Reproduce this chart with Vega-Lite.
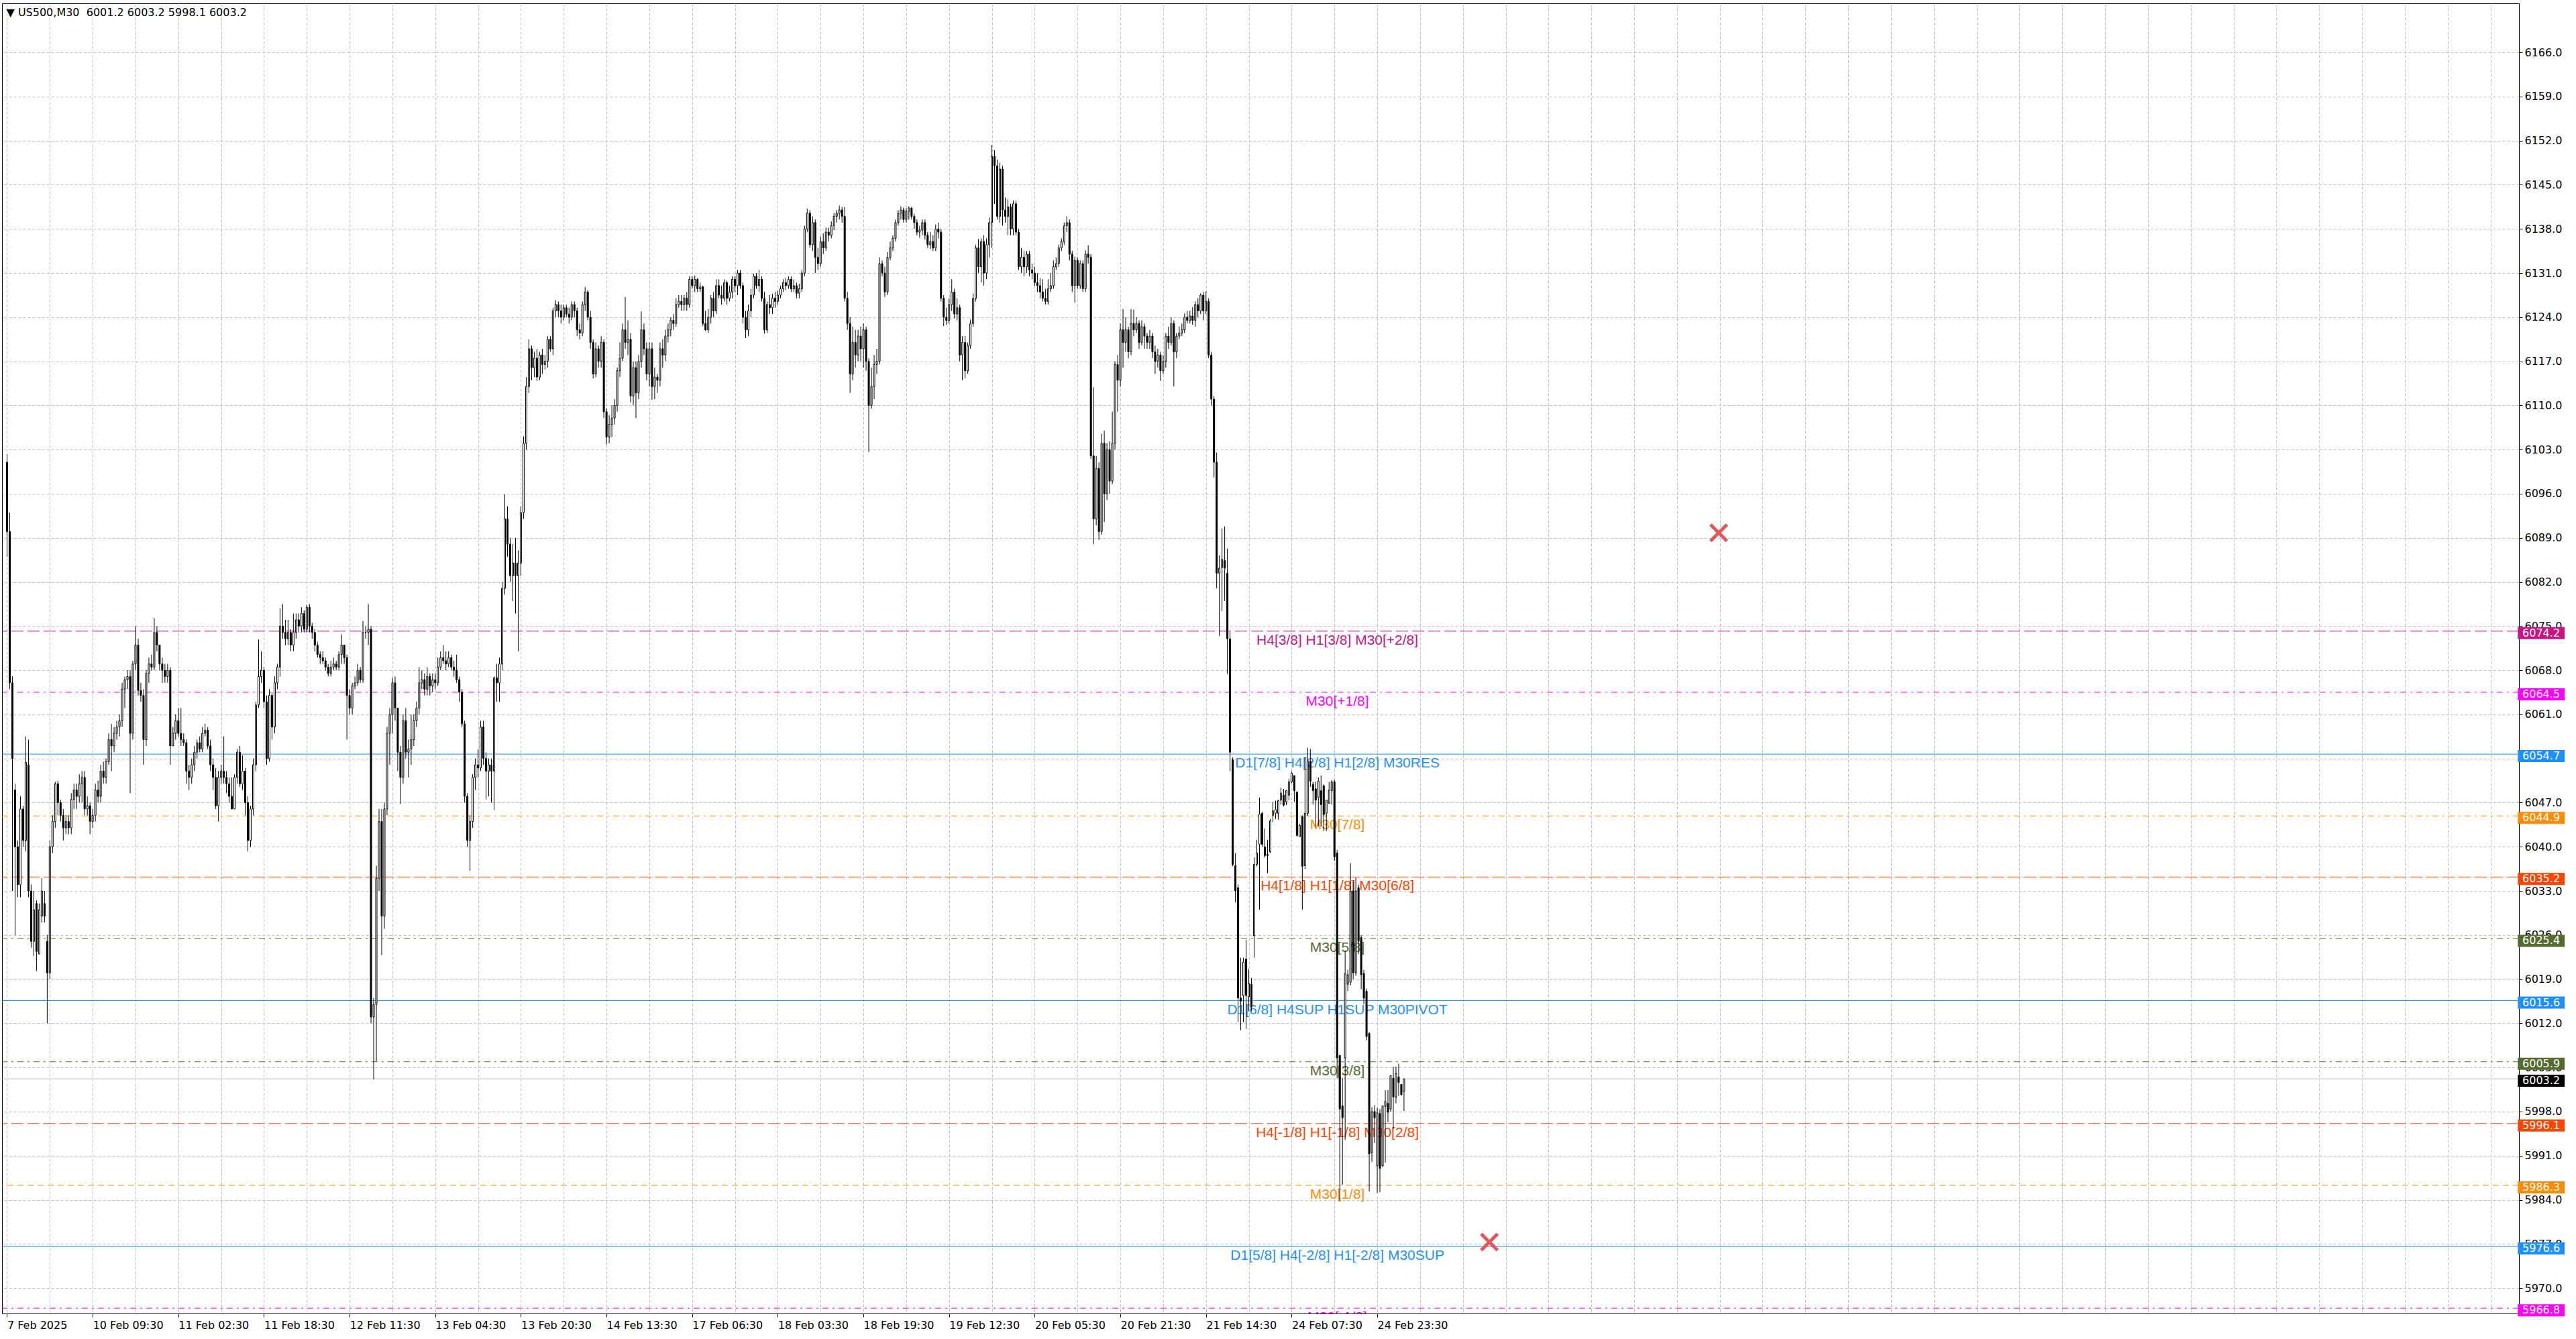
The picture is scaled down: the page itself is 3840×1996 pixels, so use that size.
{
"$schema": "https://vega.github.io/schema/vega-lite/v6.json",
"width": 3752,
"height": 1953,
"autosize": {"type": "none"},
"padding": {"left": 3, "top": 5, "right": 85, "bottom": 38},
"background": "white",
"config": {"view": {"stroke": "black", "strokeWidth": 1}, "font": "DejaVu Sans", "axis": {"labelFont": "DejaVu Sans", "labelFontSize": 16, "labelColor": "black"}},
"title": {"text": "▼ US500,M30\u00a0 6001.2 6003.2 5998.1 6003.2", "anchor": "start", "orient": "top", "offset": -35, "baseline": "alphabetic", "dx": 7, "fontSize": 16, "fontWeight": "normal", "font": "DejaVu Sans", "color": "black"},
"datasets": {
"levels": [
{"price":6074.2,"octave":"+2/8","label":"H4[3/8] H1[3/8] M30[+2/8]"},
{"price":6064.5,"octave":"+1/8","label":"M30[+1/8]"},
{"price":6054.7,"octave":"8/8","label":"D1[7/8] H4[2/8] H1[2/8] M30RES"},
{"price":6044.9,"octave":"7/8","label":"M30[7/8]"},
{"price":6035.2,"octave":"6/8","label":"H4[1/8] H1[1/8] M30[6/8]"},
{"price":6025.4,"octave":"5/8","label":"M30[5/8]"},
{"price":6015.6,"octave":"4/8","label":"D1[6/8] H4SUP H1SUP M30PIVOT"},
{"price":6005.9,"octave":"3/8","label":"M30[3/8]"},
{"price":5996.1,"octave":"2/8","label":"H4[-1/8] H1[-1/8] M30[2/8]"},
{"price":5986.3,"octave":"1/8","label":"M30[1/8]"},
{"price":5976.6,"octave":"0/8","label":"D1[5/8] H4[-2/8] H1[-2/8] M30SUP"},
{"price":5966.8,"octave":"-1/8","label":"M30[-1/8]"}
],
"trades": [{"bar":639.6,"price":6089.8},{"bar":553.9,"price":5977.3}],
"candles": [
{"i":0,"o":6101,"h":6102.3,"l":6086,"c":6090},
{"i":1,"o":6090,"h":6093,"l":6065,"c":6066},
{"i":2,"o":6066,"h":6067,"l":6033,"c":6054},
{"i":3,"o":6049,"h":6050,"l":6026,"c":6040},
{"i":4,"o":6040,"h":6041,"l":6032,"c":6034},
{"i":5,"o":6034,"h":6048,"l":6032,"c":6046},
{"i":6,"o":6046,"h":6046.5,"l":6040,"c":6041},
{"i":7,"o":6041,"h":6057.5,"l":6039.3,"c":6053.4},
{"i":8,"o":6053,"h":6057,"l":6032,"c":6033},
{"i":9,"o":6033,"h":6034,"l":6024,"c":6025},
{"i":10,"o":6025,"h":6033,"l":6022.7,"c":6030},
{"i":11,"o":6031,"h":6031.5,"l":6020.3,"c":6023.4},
{"i":12,"o":6023,"h":6031,"l":6023,"c":6030},
{"i":13,"o":6029,"h":6035,"l":6028,"c":6033},
{"i":14,"o":6031,"h":6033,"l":6028,"c":6029},
{"i":15,"o":6025,"h":6026,"l":6012,"c":6020},
{"i":16,"o":6020,"h":6041,"l":6019,"c":6040},
{"i":17,"o":6040,"h":6045,"l":6039,"c":6044},
{"i":18,"o":6044,"h":6050.3,"l":6043,"c":6050},
{"i":19,"o":6050,"h":6050.5,"l":6045,"c":6047},
{"i":20,"o":6047,"h":6047.5,"l":6044,"c":6045},
{"i":21,"o":6045,"h":6046,"l":6041,"c":6043},
{"i":22,"o":6043,"h":6045,"l":6042,"c":6044},
{"i":23,"o":6044,"h":6045,"l":6042,"c":6043},
{"i":24,"o":6043,"h":6048.5,"l":6042,"c":6047.5},
{"i":25,"o":6047.5,"h":6050,"l":6046,"c":6049},
{"i":26,"o":6049,"h":6050,"l":6046,"c":6048},
{"i":27,"o":6048,"h":6051.5,"l":6047,"c":6050},
{"i":28,"o":6050,"h":6052,"l":6047,"c":6051},
{"i":29,"o":6051,"h":6052,"l":6045,"c":6046},
{"i":30,"o":6046,"h":6048,"l":6045,"c":6046.5},
{"i":31,"o":6046.5,"h":6047,"l":6042,"c":6044},
{"i":32,"o":6044,"h":6046,"l":6043,"c":6045},
{"i":33,"o":6045,"h":6050,"l":6044,"c":6049},
{"i":34,"o":6049,"h":6050.5,"l":6047,"c":6048},
{"i":35,"o":6048,"h":6053,"l":6047,"c":6052},
{"i":36,"o":6052,"h":6053.5,"l":6050,"c":6051},
{"i":37,"o":6051,"h":6054,"l":6050,"c":6053.5},
{"i":38,"o":6053.5,"h":6058,"l":6053,"c":6057},
{"i":39,"o":6057,"h":6059.5,"l":6052,"c":6056},
{"i":40,"o":6056,"h":6059,"l":6055,"c":6058},
{"i":41,"o":6058,"h":6060,"l":6057,"c":6059},
{"i":42,"o":6059,"h":6061,"l":6057.5,"c":6060},
{"i":43,"o":6060,"h":6066,"l":6059,"c":6065},
{"i":44,"o":6065,"h":6067,"l":6062,"c":6066.5},
{"i":45,"o":6066.5,"h":6068,"l":6065,"c":6067},
{"i":46,"o":6067,"h":6068,"l":6048.5,"c":6058},
{"i":47,"o":6058,"h":6069.5,"l":6057,"c":6069},
{"i":48,"o":6069,"h":6075,"l":6068,"c":6072},
{"i":49,"o":6072,"h":6073,"l":6064,"c":6064.8},
{"i":50,"o":6064.8,"h":6066,"l":6063,"c":6064},
{"i":51,"o":6064,"h":6065,"l":6053,"c":6057},
{"i":52,"o":6057,"h":6068,"l":6056,"c":6067.5},
{"i":53,"o":6067.5,"h":6070,"l":6066,"c":6069},
{"i":54,"o":6069,"h":6070.5,"l":6068,"c":6068.5},
{"i":55,"o":6068.5,"h":6076.3,"l":6068,"c":6074},
{"i":56,"o":6074,"h":6075,"l":6071,"c":6072},
{"i":57,"o":6072,"h":6072,"l":6068,"c":6069},
{"i":58,"o":6069,"h":6070,"l":6066,"c":6068},
{"i":59,"o":6068,"h":6069,"l":6066,"c":6067},
{"i":60,"o":6067,"h":6069,"l":6066,"c":6068},
{"i":61,"o":6068,"h":6068.5,"l":6053,"c":6056},
{"i":62,"o":6056,"h":6059,"l":6056,"c":6058},
{"i":63,"o":6058,"h":6061,"l":6057,"c":6060},
{"i":64,"o":6060,"h":6062,"l":6057.5,"c":6058},
{"i":65,"o":6058,"h":6062,"l":6056,"c":6057},
{"i":66,"o":6057,"h":6058,"l":6056,"c":6056.5},
{"i":67,"o":6056.5,"h":6057,"l":6050,"c":6052},
{"i":68,"o":6052,"h":6053,"l":6049,"c":6051},
{"i":69,"o":6051,"h":6054,"l":6050,"c":6053},
{"i":70,"o":6053,"h":6056,"l":6052,"c":6055},
{"i":71,"o":6055,"h":6057,"l":6054,"c":6056.5},
{"i":72,"o":6056.5,"h":6057.5,"l":6055,"c":6055.5},
{"i":73,"o":6055.5,"h":6059,"l":6055,"c":6058},
{"i":74,"o":6058,"h":6059.5,"l":6057.5,"c":6058.5},
{"i":75,"o":6058.5,"h":6059,"l":6055.5,"c":6056},
{"i":76,"o":6056,"h":6057,"l":6052,"c":6053},
{"i":77,"o":6053,"h":6054,"l":6049,"c":6051},
{"i":78,"o":6051,"h":6052.5,"l":6046,"c":6046.5},
{"i":79,"o":6046.5,"h":6052,"l":6044,"c":6051},
{"i":80,"o":6051,"h":6053,"l":6050,"c":6052},
{"i":81,"o":6052,"h":6057.5,"l":6050,"c":6051},
{"i":82,"o":6051,"h":6052,"l":6048.5,"c":6050},
{"i":83,"o":6050,"h":6051,"l":6047,"c":6048},
{"i":84,"o":6048,"h":6051,"l":6046,"c":6046},
{"i":85,"o":6046,"h":6051.5,"l":6046,"c":6051},
{"i":86,"o":6051,"h":6055.5,"l":6050,"c":6055},
{"i":87,"o":6055,"h":6056,"l":6049.5,"c":6050},
{"i":88,"o":6050,"h":6054.5,"l":6049,"c":6052},
{"i":89,"o":6052,"h":6052.5,"l":6045,"c":6047},
{"i":90,"o":6047,"h":6048,"l":6039.3,"c":6041},
{"i":91,"o":6041,"h":6046.5,"l":6040,"c":6046},
{"i":92,"o":6046,"h":6054,"l":6045,"c":6053},
{"i":93,"o":6053,"h":6063,"l":6052,"c":6062.5},
{"i":94,"o":6062.5,"h":6072.9,"l":6062,"c":6067},
{"i":95,"o":6067,"h":6071,"l":6066,"c":6068},
{"i":96,"o":6068,"h":6068.5,"l":6062,"c":6063},
{"i":97,"o":6063,"h":6064,"l":6053,"c":6054},
{"i":98,"o":6054,"h":6065,"l":6053.5,"c":6064},
{"i":99,"o":6064,"h":6064.5,"l":6057,"c":6059},
{"i":100,"o":6059,"h":6067,"l":6058,"c":6066},
{"i":101,"o":6066,"h":6069,"l":6065,"c":6068.5},
{"i":102,"o":6068.5,"h":6077.8,"l":6067,"c":6075},
{"i":103,"o":6075,"h":6078.5,"l":6073,"c":6074},
{"i":104,"o":6074,"h":6076,"l":6072,"c":6073},
{"i":105,"o":6073,"h":6076,"l":6072,"c":6074},
{"i":106,"o":6074,"h":6074.5,"l":6071,"c":6072},
{"i":107,"o":6072,"h":6077,"l":6071,"c":6074},
{"i":108,"o":6074,"h":6077,"l":6073,"c":6076},
{"i":109,"o":6076,"h":6077,"l":6074,"c":6075},
{"i":110,"o":6075,"h":6078,"l":6074,"c":6077},
{"i":111,"o":6077,"h":6077.5,"l":6074,"c":6074.5},
{"i":112,"o":6074.5,"h":6078.4,"l":6074,"c":6078},
{"i":113,"o":6078,"h":6078.5,"l":6074,"c":6075},
{"i":114,"o":6075,"h":6075.5,"l":6073,"c":6074},
{"i":115,"o":6074,"h":6074.5,"l":6071,"c":6072},
{"i":116,"o":6072,"h":6072.5,"l":6070,"c":6070.5},
{"i":117,"o":6070.5,"h":6071,"l":6069,"c":6070},
{"i":118,"o":6070,"h":6071,"l":6069,"c":6069.5},
{"i":119,"o":6069.5,"h":6070,"l":6068,"c":6068.5},
{"i":120,"o":6068.5,"h":6069,"l":6067,"c":6067.5},
{"i":121,"o":6067.5,"h":6069.5,"l":6067,"c":6068.5},
{"i":122,"o":6068.5,"h":6070,"l":6068,"c":6069},
{"i":123,"o":6069,"h":6069.5,"l":6068,"c":6068.5},
{"i":124,"o":6068.5,"h":6071,"l":6068,"c":6070.5},
{"i":125,"o":6070.5,"h":6073.7,"l":6069,"c":6072},
{"i":126,"o":6072,"h":6072,"l":6069,"c":6070},
{"i":127,"o":6070,"h":6070.5,"l":6057,"c":6064},
{"i":128,"o":6064,"h":6065,"l":6061,"c":6062},
{"i":129,"o":6062,"h":6066,"l":6061,"c":6065.5},
{"i":130,"o":6065.5,"h":6067,"l":6065,"c":6066},
{"i":131,"o":6066,"h":6069,"l":6065.5,"c":6068},
{"i":132,"o":6068,"h":6068.5,"l":6066,"c":6066.5},
{"i":133,"o":6066.5,"h":6075.8,"l":6066,"c":6074},
{"i":134,"o":6074,"h":6075,"l":6073,"c":6074},
{"i":135,"o":6074,"h":6078.5,"l":6072,"c":6074.5},
{"i":136,"o":6074.5,"h":6075,"l":6012,"c":6013},
{"i":137,"o":6013,"h":6016,"l":6003.1,"c":6015},
{"i":138,"o":6015,"h":6037,"l":6006,"c":6035},
{"i":139,"o":6035,"h":6046,"l":6033,"c":6044},
{"i":140,"o":6044,"h":6046,"l":6022.8,"c":6029},
{"i":141,"o":6029,"h":6047,"l":6027,"c":6046},
{"i":142,"o":6046,"h":6059,"l":6045,"c":6058},
{"i":143,"o":6058,"h":6062,"l":6053,"c":6061},
{"i":144,"o":6061,"h":6066.8,"l":6058,"c":6066},
{"i":145,"o":6066,"h":6067,"l":6060,"c":6062},
{"i":146,"o":6062,"h":6062,"l":6052,"c":6055},
{"i":147,"o":6055,"h":6056,"l":6046.8,"c":6051},
{"i":148,"o":6051,"h":6061,"l":6050,"c":6060},
{"i":149,"o":6060,"h":6062,"l":6054,"c":6055},
{"i":150,"o":6055,"h":6057,"l":6051,"c":6055.5},
{"i":151,"o":6055.5,"h":6061,"l":6053,"c":6057},
{"i":152,"o":6057,"h":6061,"l":6056,"c":6060},
{"i":153,"o":6060,"h":6063,"l":6059,"c":6062},
{"i":154,"o":6062,"h":6068.5,"l":6061,"c":6066},
{"i":155,"o":6066,"h":6068,"l":6065,"c":6066.5},
{"i":156,"o":6066.5,"h":6067.5,"l":6064,"c":6065},
{"i":157,"o":6065,"h":6068.5,"l":6064,"c":6067},
{"i":158,"o":6067,"h":6067.5,"l":6064,"c":6065.5},
{"i":159,"o":6065.5,"h":6067.5,"l":6064.5,"c":6066.5},
{"i":160,"o":6066.5,"h":6067.5,"l":6065,"c":6066},
{"i":161,"o":6066,"h":6070,"l":6065.5,"c":6068.5},
{"i":162,"o":6068.5,"h":6071,"l":6068,"c":6070},
{"i":163,"o":6070,"h":6072,"l":6069,"c":6069.5},
{"i":164,"o":6069.5,"h":6071,"l":6068,"c":6069},
{"i":165,"o":6069,"h":6071,"l":6068.5,"c":6070},
{"i":166,"o":6070,"h":6070.5,"l":6068,"c":6068.5},
{"i":167,"o":6068.5,"h":6069.5,"l":6067,"c":6068},
{"i":168,"o":6068,"h":6070.5,"l":6066,"c":6066.5},
{"i":169,"o":6066.5,"h":6067,"l":6063,"c":6064.5},
{"i":170,"o":6064.5,"h":6065,"l":6059,"c":6059.5},
{"i":171,"o":6059.5,"h":6060,"l":6047,"c":6048},
{"i":172,"o":6048,"h":6048.5,"l":6040,"c":6041},
{"i":173,"o":6041,"h":6045,"l":6036.2,"c":6044},
{"i":174,"o":6044,"h":6051.5,"l":6043,"c":6051},
{"i":175,"o":6051,"h":6054,"l":6049,"c":6053},
{"i":176,"o":6053,"h":6055.5,"l":6051,"c":6052.5},
{"i":177,"o":6052.5,"h":6060,"l":6052,"c":6059},
{"i":178,"o":6059,"h":6060,"l":6053,"c":6054},
{"i":179,"o":6054,"h":6055,"l":6047.5,"c":6052},
{"i":180,"o":6052,"h":6054,"l":6048,"c":6053},
{"i":181,"o":6053,"h":6054,"l":6047,"c":6052},
{"i":182,"o":6052,"h":6067,"l":6045.8,"c":6066.8},
{"i":183,"o":6066.8,"h":6069,"l":6063,"c":6066},
{"i":184,"o":6066,"h":6070,"l":6063,"c":6069},
{"i":185,"o":6069,"h":6082,"l":6068,"c":6081},
{"i":186,"o":6081,"h":6095.9,"l":6080,"c":6092},
{"i":187,"o":6092,"h":6094,"l":6086,"c":6088},
{"i":188,"o":6088,"h":6089,"l":6082,"c":6083},
{"i":189,"o":6083,"h":6088,"l":6079,"c":6085},
{"i":190,"o":6085,"h":6089,"l":6077,"c":6083},
{"i":191,"o":6083,"h":6087,"l":6071,"c":6085},
{"i":192,"o":6085,"h":6094,"l":6083,"c":6093},
{"i":193,"o":6093,"h":6105.1,"l":6092,"c":6104},
{"i":194,"o":6104,"h":6114.5,"l":6103,"c":6113},
{"i":195,"o":6113,"h":6120.5,"l":6112,"c":6119},
{"i":196,"o":6119,"h":6119.5,"l":6114,"c":6116},
{"i":197,"o":6116,"h":6118.5,"l":6114.5,"c":6117.5},
{"i":198,"o":6117.5,"h":6119,"l":6113.9,"c":6114.5},
{"i":199,"o":6114.5,"h":6118.5,"l":6114,"c":6118},
{"i":200,"o":6118,"h":6119,"l":6115,"c":6116.5},
{"i":201,"o":6116.5,"h":6118,"l":6115.7,"c":6117},
{"i":202,"o":6117,"h":6121,"l":6116,"c":6120.5},
{"i":203,"o":6120.5,"h":6121,"l":6118.5,"c":6119},
{"i":204,"o":6119,"h":6125.5,"l":6118,"c":6125},
{"i":205,"o":6125,"h":6126.7,"l":6124,"c":6126},
{"i":206,"o":6126,"h":6126.5,"l":6124,"c":6125},
{"i":207,"o":6125,"h":6126,"l":6123,"c":6124},
{"i":208,"o":6124,"h":6126,"l":6123.5,"c":6125.5},
{"i":209,"o":6125.5,"h":6126,"l":6124,"c":6124.5},
{"i":210,"o":6124.5,"h":6125.5,"l":6123,"c":6124},
{"i":211,"o":6124,"h":6126.5,"l":6123.5,"c":6126},
{"i":212,"o":6126,"h":6126.5,"l":6124,"c":6125},
{"i":213,"o":6125,"h":6125.5,"l":6121,"c":6122},
{"i":214,"o":6122,"h":6123,"l":6120.5,"c":6121.5},
{"i":215,"o":6121.5,"h":6126.5,"l":6121,"c":6126},
{"i":216,"o":6126,"h":6128.8,"l":6125,"c":6128},
{"i":217,"o":6128,"h":6128.3,"l":6123.5,"c":6124},
{"i":218,"o":6124,"h":6125,"l":6119,"c":6120},
{"i":219,"o":6120,"h":6120.5,"l":6114.3,"c":6115},
{"i":220,"o":6115,"h":6120,"l":6114.5,"c":6119},
{"i":221,"o":6119,"h":6119.5,"l":6116,"c":6117},
{"i":222,"o":6117,"h":6121,"l":6116,"c":6120},
{"i":223,"o":6120,"h":6120.5,"l":6108,"c":6109},
{"i":224,"o":6109,"h":6109.5,"l":6103.8,"c":6105},
{"i":225,"o":6105,"h":6108.5,"l":6104,"c":6107},
{"i":226,"o":6107,"h":6110,"l":6105,"c":6108},
{"i":227,"o":6108,"h":6111,"l":6107,"c":6110},
{"i":228,"o":6110,"h":6116,"l":6109,"c":6115.5},
{"i":229,"o":6115.5,"h":6120,"l":6114.5,"c":6117.5},
{"i":230,"o":6117.5,"h":6123,"l":6117,"c":6122},
{"i":231,"o":6122,"h":6127.2,"l":6119,"c":6120},
{"i":232,"o":6120,"h":6123.5,"l":6118,"c":6120.5},
{"i":233,"o":6120.5,"h":6121.5,"l":6110.5,"c":6111.5},
{"i":234,"o":6111.5,"h":6117,"l":6110,"c":6116},
{"i":235,"o":6116,"h":6117,"l":6108,"c":6112},
{"i":236,"o":6112,"h":6118,"l":6111,"c":6117},
{"i":237,"o":6117,"h":6124.9,"l":6116,"c":6122},
{"i":238,"o":6122,"h":6123,"l":6118,"c":6119},
{"i":239,"o":6119,"h":6120,"l":6114,"c":6115},
{"i":240,"o":6115,"h":6120,"l":6113,"c":6119},
{"i":241,"o":6119,"h":6120,"l":6110.9,"c":6113},
{"i":242,"o":6113,"h":6116,"l":6111,"c":6114.5},
{"i":243,"o":6114.5,"h":6115,"l":6112,"c":6114},
{"i":244,"o":6114,"h":6120,"l":6113,"c":6119},
{"i":245,"o":6119,"h":6120.5,"l":6116,"c":6118},
{"i":246,"o":6118,"h":6122,"l":6117,"c":6121},
{"i":247,"o":6121,"h":6123,"l":6120,"c":6122},
{"i":248,"o":6122,"h":6124,"l":6121,"c":6123.5},
{"i":249,"o":6123.5,"h":6124.5,"l":6122,"c":6123},
{"i":250,"o":6123,"h":6127,"l":6122.5,"c":6126},
{"i":251,"o":6126,"h":6127.5,"l":6125.5,"c":6126.5},
{"i":252,"o":6126.5,"h":6127.5,"l":6125,"c":6126},
{"i":253,"o":6126,"h":6127.5,"l":6125,"c":6127},
{"i":254,"o":6127,"h":6128,"l":6125,"c":6126},
{"i":255,"o":6126,"h":6130.5,"l":6125.5,"c":6130},
{"i":256,"o":6130,"h":6130.5,"l":6128.5,"c":6129},
{"i":257,"o":6129,"h":6130.6,"l":6128,"c":6130},
{"i":258,"o":6130,"h":6130.2,"l":6128,"c":6128.5},
{"i":259,"o":6128.5,"h":6129.5,"l":6128,"c":6128.8},
{"i":260,"o":6128.8,"h":6129,"l":6122.6,"c":6123},
{"i":261,"o":6123,"h":6125,"l":6121.8,"c":6122},
{"i":262,"o":6122,"h":6125.3,"l":6121.5,"c":6124},
{"i":263,"o":6124,"h":6127.5,"l":6123,"c":6127},
{"i":264,"o":6127,"h":6128,"l":6124,"c":6125},
{"i":265,"o":6125,"h":6130,"l":6124.5,"c":6129},
{"i":266,"o":6129,"h":6130,"l":6127,"c":6127.5},
{"i":267,"o":6127.5,"h":6129,"l":6126,"c":6127},
{"i":268,"o":6127,"h":6130,"l":6126.5,"c":6129.5},
{"i":269,"o":6129.5,"h":6129.8,"l":6126,"c":6127},
{"i":270,"o":6127,"h":6129,"l":6126.5,"c":6128},
{"i":271,"o":6128,"h":6130.5,"l":6127,"c":6130},
{"i":272,"o":6130,"h":6130.5,"l":6128,"c":6129},
{"i":273,"o":6129,"h":6131.5,"l":6127.5,"c":6131},
{"i":274,"o":6131,"h":6131.5,"l":6128.5,"c":6129},
{"i":275,"o":6129,"h":6129.5,"l":6123,"c":6124},
{"i":276,"o":6124,"h":6125,"l":6120.7,"c":6122},
{"i":277,"o":6122,"h":6126,"l":6121,"c":6125},
{"i":278,"o":6125,"h":6128.5,"l":6124,"c":6127.5},
{"i":279,"o":6127.5,"h":6130.9,"l":6127,"c":6130.5},
{"i":280,"o":6130.5,"h":6131,"l":6128.5,"c":6129},
{"i":281,"o":6129,"h":6131.5,"l":6128,"c":6130},
{"i":282,"o":6130,"h":6130.5,"l":6126.5,"c":6127},
{"i":283,"o":6127,"h":6128,"l":6121.4,"c":6122},
{"i":284,"o":6122,"h":6126.5,"l":6121.5,"c":6126},
{"i":285,"o":6126,"h":6127.5,"l":6124.5,"c":6125.5},
{"i":286,"o":6125.5,"h":6127.7,"l":6124.5,"c":6127},
{"i":287,"o":6127,"h":6128,"l":6125.5,"c":6126.5},
{"i":288,"o":6126.5,"h":6128.2,"l":6126,"c":6127.5},
{"i":289,"o":6127.5,"h":6129,"l":6127,"c":6128.5},
{"i":290,"o":6128.5,"h":6130,"l":6128,"c":6129.5},
{"i":291,"o":6129.5,"h":6130.2,"l":6128.3,"c":6129},
{"i":292,"o":6129,"h":6130.5,"l":6128.5,"c":6130},
{"i":293,"o":6130,"h":6130.5,"l":6128,"c":6128.5},
{"i":294,"o":6128.5,"h":6130,"l":6128,"c":6129},
{"i":295,"o":6129,"h":6129.5,"l":6127,"c":6127.8},
{"i":296,"o":6127.8,"h":6129.3,"l":6127,"c":6128.5},
{"i":297,"o":6128.5,"h":6131.5,"l":6128,"c":6131},
{"i":298,"o":6131,"h":6138.5,"l":6130.5,"c":6138},
{"i":299,"o":6138,"h":6141.2,"l":6137.5,"c":6140.5},
{"i":300,"o":6140.5,"h":6141,"l":6135,"c":6135.5},
{"i":301,"o":6135.5,"h":6140,"l":6134.5,"c":6139},
{"i":302,"o":6139,"h":6139.5,"l":6131,"c":6133.5},
{"i":303,"o":6133.5,"h":6135,"l":6131.5,"c":6132.5},
{"i":304,"o":6132.5,"h":6136.8,"l":6132,"c":6136},
{"i":305,"o":6136,"h":6137.3,"l":6134,"c":6135},
{"i":306,"o":6135,"h":6138.2,"l":6134.5,"c":6137.5},
{"i":307,"o":6137.5,"h":6138.2,"l":6136,"c":6137},
{"i":308,"o":6137,"h":6139.2,"l":6136.5,"c":6138.5},
{"i":309,"o":6138.5,"h":6140.5,"l":6137.8,"c":6140},
{"i":310,"o":6140,"h":6141,"l":6139,"c":6140.5},
{"i":311,"o":6140.5,"h":6141.7,"l":6139.5,"c":6141},
{"i":312,"o":6141,"h":6141.5,"l":6139,"c":6140},
{"i":313,"o":6140,"h":6141.5,"l":6126.5,"c":6127},
{"i":314,"o":6127,"h":6128,"l":6122,"c":6123},
{"i":315,"o":6123,"h":6124,"l":6112,"c":6115},
{"i":316,"o":6115,"h":6122.5,"l":6114,"c":6120},
{"i":317,"o":6120,"h":6122,"l":6116,"c":6118},
{"i":318,"o":6118,"h":6122,"l":6117,"c":6121},
{"i":319,"o":6121,"h":6122.5,"l":6117,"c":6119},
{"i":320,"o":6119,"h":6123,"l":6116,"c":6122},
{"i":321,"o":6122,"h":6122.5,"l":6115.5,"c":6117},
{"i":322,"o":6117,"h":6117.5,"l":6102.6,"c":6110},
{"i":323,"o":6110,"h":6116,"l":6109.5,"c":6113},
{"i":324,"o":6113,"h":6118,"l":6111,"c":6116.5},
{"i":325,"o":6116.5,"h":6119,"l":6115,"c":6117},
{"i":326,"o":6117,"h":6133.5,"l":6116.5,"c":6132.5},
{"i":327,"o":6132.5,"h":6133,"l":6130.5,"c":6131},
{"i":328,"o":6131,"h":6132,"l":6127.2,"c":6128},
{"i":329,"o":6128,"h":6134.3,"l":6127.5,"c":6133.5},
{"i":330,"o":6133.5,"h":6136,"l":6133,"c":6135},
{"i":331,"o":6135,"h":6137,"l":6134.5,"c":6136.5},
{"i":332,"o":6136.5,"h":6139.5,"l":6136,"c":6139},
{"i":333,"o":6139,"h":6141,"l":6138.5,"c":6140.5},
{"i":334,"o":6140.5,"h":6141.6,"l":6139.5,"c":6141},
{"i":335,"o":6141,"h":6141.4,"l":6139,"c":6139.5},
{"i":336,"o":6139.5,"h":6141.3,"l":6139,"c":6140.8},
{"i":337,"o":6140.8,"h":6141.6,"l":6139.5,"c":6141.3},
{"i":338,"o":6141.3,"h":6141.5,"l":6139.5,"c":6140},
{"i":339,"o":6140,"h":6140.4,"l":6138,"c":6139},
{"i":340,"o":6139,"h":6139.5,"l":6137,"c":6137.5},
{"i":341,"o":6137.5,"h":6138.5,"l":6136.6,"c":6137.8},
{"i":342,"o":6137.8,"h":6139.5,"l":6137,"c":6139},
{"i":343,"o":6139,"h":6139.5,"l":6136.3,"c":6137},
{"i":344,"o":6137,"h":6137.5,"l":6135,"c":6135.5},
{"i":345,"o":6135.5,"h":6137.5,"l":6134.8,"c":6136},
{"i":346,"o":6136,"h":6137,"l":6134.5,"c":6135},
{"i":347,"o":6135,"h":6138.7,"l":6134.5,"c":6138},
{"i":348,"o":6138,"h":6139,"l":6136.5,"c":6137.5},
{"i":349,"o":6137.5,"h":6138,"l":6126.5,"c":6127},
{"i":350,"o":6127,"h":6127.5,"l":6122.6,"c":6124},
{"i":351,"o":6124,"h":6125.5,"l":6122.8,"c":6123.5},
{"i":352,"o":6123.5,"h":6127,"l":6123,"c":6126},
{"i":353,"o":6126,"h":6130,"l":6125,"c":6128},
{"i":354,"o":6128,"h":6128.5,"l":6123.8,"c":6124.5},
{"i":355,"o":6124.5,"h":6127,"l":6123.5,"c":6125.5},
{"i":356,"o":6125.5,"h":6126,"l":6117,"c":6118},
{"i":357,"o":6118,"h":6121,"l":6114,"c":6120},
{"i":358,"o":6120,"h":6121,"l":6114.3,"c":6115.5},
{"i":359,"o":6115.5,"h":6120,"l":6115,"c":6119.5},
{"i":360,"o":6119.5,"h":6123.6,"l":6119,"c":6123},
{"i":361,"o":6123,"h":6127.8,"l":6122.5,"c":6127},
{"i":362,"o":6127,"h":6135.5,"l":6126.5,"c":6135},
{"i":363,"o":6135,"h":6136.4,"l":6131,"c":6132},
{"i":364,"o":6132,"h":6136.5,"l":6129.5,"c":6136},
{"i":365,"o":6136,"h":6137,"l":6129,"c":6131},
{"i":366,"o":6131,"h":6136.5,"l":6130,"c":6135.5},
{"i":367,"o":6135.5,"h":6139.8,"l":6133.5,"c":6139},
{"i":368,"o":6139,"h":6151.3,"l":6135,"c":6149.5},
{"i":369,"o":6149.5,"h":6150.5,"l":6142,"c":6148},
{"i":370,"o":6148,"h":6149,"l":6139.5,"c":6140},
{"i":371,"o":6140,"h":6148.5,"l":6139,"c":6147.5},
{"i":372,"o":6147.5,"h":6148,"l":6138.5,"c":6141},
{"i":373,"o":6141,"h":6143,"l":6139,"c":6140},
{"i":374,"o":6140,"h":6142.7,"l":6137,"c":6141.5},
{"i":375,"o":6141.5,"h":6142,"l":6137,"c":6138},
{"i":376,"o":6138,"h":6142.5,"l":6137,"c":6142},
{"i":377,"o":6142,"h":6142.5,"l":6137,"c":6137.5},
{"i":378,"o":6137.5,"h":6138,"l":6131.5,"c":6132},
{"i":379,"o":6132,"h":6135,"l":6131,"c":6133.5},
{"i":380,"o":6133.5,"h":6134.5,"l":6130.5,"c":6132},
{"i":381,"o":6132,"h":6134.5,"l":6131,"c":6134},
{"i":382,"o":6134,"h":6134.5,"l":6130.5,"c":6131.5},
{"i":383,"o":6131.5,"h":6132.5,"l":6130,"c":6131},
{"i":384,"o":6131,"h":6132,"l":6129,"c":6129.5},
{"i":385,"o":6129.5,"h":6131,"l":6128,"c":6129},
{"i":386,"o":6129,"h":6130.2,"l":6127,"c":6128},
{"i":387,"o":6128,"h":6130,"l":6126.5,"c":6127},
{"i":388,"o":6127,"h":6128.5,"l":6126,"c":6126.5},
{"i":389,"o":6126.5,"h":6130,"l":6126,"c":6128.5},
{"i":390,"o":6128.5,"h":6131,"l":6128,"c":6129},
{"i":391,"o":6129,"h":6133,"l":6128.5,"c":6132},
{"i":392,"o":6132,"h":6133.5,"l":6131.5,"c":6132.5},
{"i":393,"o":6132.5,"h":6135.5,"l":6132,"c":6135},
{"i":394,"o":6135,"h":6136.5,"l":6134.5,"c":6136},
{"i":395,"o":6136,"h":6139,"l":6135.5,"c":6138.5},
{"i":396,"o":6138.5,"h":6140,"l":6137.5,"c":6139},
{"i":397,"o":6139,"h":6139.5,"l":6133,"c":6134},
{"i":398,"o":6134,"h":6134.5,"l":6128,"c":6129},
{"i":399,"o":6129,"h":6133.6,"l":6126.3,"c":6133},
{"i":400,"o":6133,"h":6133.5,"l":6128.5,"c":6129},
{"i":401,"o":6129,"h":6133,"l":6128.5,"c":6132.5},
{"i":402,"o":6132.5,"h":6133,"l":6128,"c":6128.5},
{"i":403,"o":6128.5,"h":6134.6,"l":6128,"c":6134},
{"i":404,"o":6134,"h":6135.4,"l":6132.5,"c":6133.5},
{"i":405,"o":6133.5,"h":6134,"l":6101.5,"c":6102},
{"i":406,"o":6102,"h":6112.9,"l":6088,"c":6092},
{"i":407,"o":6092,"h":6102,"l":6091,"c":6100},
{"i":408,"o":6100,"h":6101,"l":6088.7,"c":6090},
{"i":409,"o":6090,"h":6105.5,"l":6089.5,"c":6104},
{"i":410,"o":6104,"h":6106,"l":6091.5,"c":6096},
{"i":411,"o":6096,"h":6104,"l":6095,"c":6103},
{"i":412,"o":6103,"h":6104.3,"l":6096,"c":6098},
{"i":413,"o":6098,"h":6109,"l":6097.5,"c":6104},
{"i":414,"o":6104,"h":6117,"l":6103,"c":6116.5},
{"i":415,"o":6116.5,"h":6118,"l":6109,"c":6114},
{"i":416,"o":6114,"h":6123,"l":6113,"c":6122},
{"i":417,"o":6122,"h":6125.3,"l":6116,"c":6120},
{"i":418,"o":6120,"h":6124,"l":6118.5,"c":6122},
{"i":419,"o":6122,"h":6122.5,"l":6117.5,"c":6118.5},
{"i":420,"o":6118.5,"h":6125.3,"l":6118,"c":6123},
{"i":421,"o":6123,"h":6125.2,"l":6121,"c":6122},
{"i":422,"o":6122,"h":6124,"l":6121.5,"c":6123},
{"i":423,"o":6123,"h":6123.5,"l":6119,"c":6120},
{"i":424,"o":6120,"h":6123.5,"l":6119.5,"c":6122.5},
{"i":425,"o":6122.5,"h":6123,"l":6119,"c":6121},
{"i":426,"o":6121,"h":6121.5,"l":6119,"c":6120},
{"i":427,"o":6120,"h":6122,"l":6119,"c":6121},
{"i":428,"o":6121,"h":6121.5,"l":6117.5,"c":6118.5},
{"i":429,"o":6118.5,"h":6119.5,"l":6115,"c":6117},
{"i":430,"o":6117,"h":6119,"l":6116,"c":6118},
{"i":431,"o":6118,"h":6118.5,"l":6113.9,"c":6115.5},
{"i":432,"o":6115.5,"h":6118,"l":6115,"c":6117},
{"i":433,"o":6117,"h":6121.5,"l":6116,"c":6121},
{"i":434,"o":6121,"h":6122.5,"l":6119,"c":6120},
{"i":435,"o":6120,"h":6124,"l":6119.5,"c":6123},
{"i":436,"o":6123,"h":6123.5,"l":6113,"c":6118.5},
{"i":437,"o":6118.5,"h":6121.5,"l":6117.5,"c":6121},
{"i":438,"o":6121,"h":6122.5,"l":6120.5,"c":6121.5},
{"i":439,"o":6121.5,"h":6123,"l":6121,"c":6122},
{"i":440,"o":6122,"h":6124.6,"l":6121.5,"c":6124},
{"i":441,"o":6124,"h":6125,"l":6123,"c":6123.5},
{"i":442,"o":6123.5,"h":6125,"l":6123,"c":6124.2},
{"i":443,"o":6124.2,"h":6125.6,"l":6122.8,"c":6123.5},
{"i":444,"o":6123.5,"h":6126.5,"l":6122.5,"c":6126},
{"i":445,"o":6126,"h":6127,"l":6124,"c":6125},
{"i":446,"o":6125,"h":6127.8,"l":6124.5,"c":6127.5},
{"i":447,"o":6127.5,"h":6128,"l":6123.5,"c":6125},
{"i":448,"o":6125,"h":6128.1,"l":6124.5,"c":6126.5},
{"i":449,"o":6126.5,"h":6127,"l":6117.5,"c":6118},
{"i":450,"o":6118,"h":6118.5,"l":6110,"c":6111},
{"i":451,"o":6111,"h":6111.5,"l":6098.6,"c":6101},
{"i":452,"o":6101,"h":6102.5,"l":6081,"c":6083.4},
{"i":453,"o":6083.4,"h":6086.2,"l":6073.4,"c":6084.2},
{"i":454,"o":6084.3,"h":6090.5,"l":6077.4,"c":6085.6},
{"i":455,"o":6085.4,"h":6090.8,"l":6079,"c":6084.2},
{"i":456,"o":6083.4,"h":6087.3,"l":6067.4,"c":6073},
{"i":457,"o":6073,"h":6074.1,"l":6052,"c":6055},
{"i":458,"o":6053.8,"h":6054.2,"l":6036.9,"c":6037.2},
{"i":459,"o":6037,"h":6039,"l":6031.2,"c":6033},
{"i":460,"o":6033.5,"h":6034,"l":6012.2,"c":6016},
{"i":461,"o":6016,"h":6022.4,"l":6010.9,"c":6015.5},
{"i":462,"o":6016.4,"h":6022.4,"l":6012.2,"c":6021.7},
{"i":463,"o":6022.2,"h":6025.2,"l":6011.1,"c":6016.4},
{"i":464,"o":6016.2,"h":6020.6,"l":6013.9,"c":6018.3},
{"i":465,"o":6018.2,"h":6019.2,"l":6013.9,"c":6014.6},
{"i":466,"o":6025.9,"h":6038.3,"l":6022.4,"c":6037.2},
{"i":467,"o":6037.2,"h":6041.1,"l":6036.9,"c":6039},
{"i":468,"o":6040.4,"h":6047.8,"l":6030,"c":6045.2},
{"i":469,"o":6045.3,"h":6045.5,"l":6040,"c":6040.4},
{"i":470,"o":6040,"h":6042.9,"l":6038.3,"c":6038.6},
{"i":471,"o":6038.8,"h":6041.1,"l":6035.8,"c":6038.6},
{"i":472,"o":6039.2,"h":6044.4,"l":6039,"c":6044.1},
{"i":473,"o":6045,"h":6047.1,"l":6043.9,"c":6045.7},
{"i":474,"o":6045.3,"h":6047.3,"l":6044.4,"c":6045.9},
{"i":475,"o":6045.3,"h":6047.5,"l":6044.3,"c":6047.3},
{"i":476,"o":6047.4,"h":6049.4,"l":6046.7,"c":6048.5},
{"i":477,"o":6048.2,"h":6049.2,"l":6046.4,"c":6046.6},
{"i":478,"o":6047.1,"h":6049,"l":6046.6,"c":6048.9},
{"i":479,"o":6048.2,"h":6050.8,"l":6047.4,"c":6050.3},
{"i":480,"o":6050.3,"h":6051.9,"l":6050.1,"c":6051.7},
{"i":481,"o":6051.3,"h":6051.3,"l":6047.1,"c":6048.9},
{"i":482,"o":6048.7,"h":6048.7,"l":6041.6,"c":6041.8},
{"i":483,"o":6041.6,"h":6043.6,"l":6041.6,"c":6043.4},
{"i":484,"o":6044.8,"h":6045,"l":6030,"c":6036.9},
{"i":485,"o":6037,"h":6054.2,"l":6036.5,"c":6045.3},
{"i":486,"o":6045.3,"h":6055.7,"l":6044.9,"c":6053.6},
{"i":487,"o":6053.6,"h":6055.5,"l":6049.5,"c":6050.4},
{"i":488,"o":6049.9,"h":6050.3,"l":6046.7,"c":6048.9},
{"i":489,"o":6049.2,"h":6050.3,"l":6043.2,"c":6047.4},
{"i":490,"o":6047.8,"h":6051,"l":6043.2,"c":6050.4},
{"i":491,"o":6048.9,"h":6051.3,"l":6043.2,"c":6046.7},
{"i":492,"o":6049.7,"h":6049.9,"l":6042.5,"c":6045.1},
{"i":493,"o":6045.3,"h":6047.4,"l":6042.5,"c":6047.4},
{"i":494,"o":6046.9,"h":6050.3,"l":6046.9,"c":6049},
{"i":495,"o":6048.9,"h":6050.6,"l":6046.7,"c":6050.3},
{"i":496,"o":6050.3,"h":6050.6,"l":6037.8,"c":6038.4},
{"i":497,"o":6039,"h":6039.5,"l":6003.3,"c":6006.5},
{"i":498,"o":6006.9,"h":6007,"l":5983.9,"c":5998.4},
{"i":499,"o":5998.9,"h":6003.3,"l":5986.4,"c":5997},
{"i":500,"o":6006.5,"h":6023.5,"l":5993.5,"c":6019.9},
{"i":501,"o":6018.2,"h":6020.5,"l":6017.1,"c":6019.7},
{"i":502,"o":6018.5,"h":6037.4,"l":6018,"c":6033},
{"i":503,"o":6033,"h":6034.5,"l":6019,"c":6020},
{"i":504,"o":6020,"h":6035.1,"l":6019.5,"c":6033},
{"i":505,"o":6033.5,"h":6034,"l":6023,"c":6025},
{"i":506,"o":6025.6,"h":6026,"l":6017.4,"c":6019.7},
{"i":507,"o":6019.9,"h":6020.5,"l":6015,"c":6016},
{"i":508,"o":6017.1,"h":6017.5,"l":6009.3,"c":6009.9},
{"i":509,"o":6010.4,"h":6010.6,"l":5985.3,"c":5991.3},
{"i":510,"o":5991.5,"h":5998.7,"l":5990,"c":5998},
{"i":511,"o":5998,"h":5999,"l":5993,"c":5997},
{"i":512,"o":5989.4,"h":5998.6,"l":5985.1,"c":5997.8},
{"i":513,"o":5997.7,"h":5998.4,"l":5985.2,"c":5989},
{"i":514,"o":5989.4,"h":5998.9,"l":5989.2,"c":5998.9},
{"i":515,"o":5998.8,"h":6001.4,"l":5989.9,"c":5999.6},
{"i":516,"o":5999.3,"h":6001.4,"l":5996.3,"c":5997.9},
{"i":517,"o":5998.4,"h":6003.7,"l":5998,"c":6003.7},
{"i":518,"o":6003.3,"h":6005.1,"l":5995.2,"c":6000.3},
{"i":519,"o":6000.3,"h":6005.1,"l":5999.3,"c":6004},
{"i":520,"o":6003.5,"h":6005.6,"l":6000.5,"c":6002.6},
{"i":521,"o":6002.3,"h":6002.3,"l":6000.5,"c":6000.7},
{"i":522,"o":6001.2,"h":6003.2,"l":5998.1,"c":6003.2}
]
},
"layer": [
{
"data": {"name": "levels"},
"mark": {"type": "rule", "strokeWidth": 1},
"encoding": {
"y": {"field": "price", "type": "quantitative", "scale": {"domain": [5966.5, 6173.25], "nice": false, "zero": false},
 "axis": {"orient": "right", "title": null, "values": [5970,5977,5984,5991,5998,6005,6012,6019,6026,6033,6040,6047,6054,6061,6068,6075,6082,6089,6096,6103,6110,6117,6124,6131,6138,6145,6152,6159,6166], "format": ".1f", "grid": true, "gridColor": "#C0C0C0", "gridDash": [4,3], "gridWidth": 1, "domain": false, "ticks": true, "tickSize": 5, "tickColor": "black", "labelPadding": 3, "labelOverlap": false, "labelFlush": false, "labelBound": false}},
"color": {"field": "octave", "type": "nominal", "legend": null, "scale": {"domain": ["+2/8","+1/8","8/8","7/8","6/8","5/8","4/8","3/8","2/8","1/8","0/8","-1/8"], "range": ["#C71585","#FF00FF","#1E90FF","#FF8C00","#FF4500","#556B2F","#1E90FF","#556B2F","#FF4500","#FF8C00","#1E90FF","#FF00FF"]}},
"strokeDash": {"field": "octave", "type": "nominal", "legend": null, "scale": {"domain": ["+2/8","+1/8","8/8","7/8","6/8","5/8","4/8","3/8","2/8","1/8","0/8","-1/8"], "range": [[18,6],[9,6,3,6],[1,0],[9,6,3,6],[18,6],[9,6,3,6],[1,0],[9,6,3,6],[18,6],[9,6],[1,0],[9,6,3,6]]}}
}
},
{
"data": {"name": "candles"},
"transform": [{"filter": "datum.i == 522"}],
"mark": {"type": "rule", "strokeWidth": 1, "color": "#C0C0C0"},
"encoding": {
"y": {"field": "c", "type": "quantitative", "scale": {"domain": [5966.5, 6173.25], "nice": false, "zero": false}, "axis": {"title": null}}
}
},
{
"data": {"name": "levels"},
"mark": {"type": "text", "font": "Liberation Sans", "fontSize": 21, "align": "center", "baseline": "alphabetic", "dy": 20, "clip": true},
"encoding": {
"x": {"datum": 497.1, "type": "quantitative", "scale": {"domain": [-0.625, 937.375], "nice": false, "zero": false}, "axis": {"title": null}},
"y": {"field": "price", "type": "quantitative", "scale": {"domain": [5966.5, 6173.25], "nice": false, "zero": false}, "axis": {"title": null}},
"text": {"field": "label"},
"color": {"field": "octave", "type": "nominal", "legend": null, "scale": {"domain": ["+2/8","+1/8","8/8","7/8","6/8","5/8","4/8","3/8","2/8","1/8","0/8","-1/8"], "range": ["#C71585","#FF00FF","#1E90FF","#FF8C00","#FF4500","#556B2F","#1E90FF","#556B2F","#FF4500","#FF8C00","#1E90FF","#FF00FF"]}}
}
},
{
"data": {"name": "candles"},
"mark": {"type": "rule", "strokeWidth": 1, "color": "black"},
"encoding": {
"x": {"field": "i", "type": "quantitative", "scale": {"domain": [-0.625, 937.375], "nice": false, "zero": false},
 "axis": {"orient": "bottom", "title": null, "values": [0,16,32,48,64,80,96,112,128,144,160,176,192,208,224,240,256,272,288,304,320,336,352,368,384,400,416,432,448,464,480,496,512,528,544,560,576,592,608,624,640,656,672,688,704,720,736,752,768,784,800,816,832,848,864,880,896,912,928], "grid": true, "gridColor": "#C0C0C0", "gridDash": [4,3], "gridWidth": 1, "domain": false, "tickSize": 5, "tickColor": "black", "tickOpacity": {"condition": {"test": "datum.value % 32 != 0 || datum.value > 512", "value": 0}, "value": 1}, "labelAlign": "left", "labelBaseline": "top", "labelPadding": 4, "labelOverlap": false, "labelFlush": false, "labelBound": false,
 "labelExpr": "(datum.value % 32 == 0 && datum.value <= 512) ? ['7 Feb 2025','10 Feb 09:30','11 Feb 02:30','11 Feb 18:30','12 Feb 11:30','13 Feb 04:30','13 Feb 20:30','14 Feb 13:30','17 Feb 06:30','18 Feb 03:30','18 Feb 19:30','19 Feb 12:30','20 Feb 05:30','20 Feb 21:30','21 Feb 14:30','24 Feb 07:30','24 Feb 23:30'][datum.value / 32] : ''"}},
"y": {"field": "l", "type": "quantitative", "scale": {"domain": [5966.5, 6173.25], "nice": false, "zero": false}, "axis": {"title": null}},
"y2": {"field": "h"}
}
},
{
"data": {"name": "candles"},
"mark": {"type": "bar", "width": 2, "stroke": "black", "strokeWidth": 1},
"encoding": {
"x": {"field": "i", "type": "quantitative", "scale": {"domain": [-0.625, 937.375], "nice": false, "zero": false}, "axis": {"title": null}},
"y": {"field": "o", "type": "quantitative", "scale": {"domain": [5966.5, 6173.25], "nice": false, "zero": false}, "axis": {"title": null}},
"y2": {"field": "c"},
"fill": {"condition": {"test": "datum.c >= datum.o", "value": "white"}, "value": "black"}
}
},
{
"data": {"name": "trades"},
"mark": {"type": "point", "shape": "M-1,-1L1,1M1,-1L-1,1", "filled": false, "stroke": "#E2575A", "strokeWidth": 5, "size": 600, "opacity": 1},
"encoding": {
"x": {"field": "bar", "type": "quantitative", "scale": {"domain": [-0.625, 937.375], "nice": false, "zero": false}, "axis": {"title": null}},
"y": {"field": "price", "type": "quantitative", "scale": {"domain": [5966.5, 6173.25], "nice": false, "zero": false}, "axis": {"title": null}}
}
},
{
"data": {"name": "levels"},
"mark": {"type": "bar", "height": 18, "yOffset": 3},
"encoding": {
"x": {"datum": 938.2, "type": "quantitative", "scale": {"domain": [-0.625, 937.375], "nice": false, "zero": false}, "axis": {"title": null}},
"x2": {"datum": 955.7},
"y": {"field": "price", "type": "quantitative", "scale": {"domain": [5966.5, 6173.25], "nice": false, "zero": false}, "axis": {"title": null}},
"color": {"field": "octave", "type": "nominal", "legend": null, "scale": {"domain": ["+2/8","+1/8","8/8","7/8","6/8","5/8","4/8","3/8","2/8","1/8","0/8","-1/8"], "range": ["#C71585","#FF00FF","#1E90FF","#FF8C00","#FF4500","#556B2F","#1E90FF","#556B2F","#FF4500","#FF8C00","#1E90FF","#FF00FF"]}}
}
},
{
"data": {"name": "levels"},
"mark": {"type": "text", "font": "DejaVu Sans", "fontSize": 16, "align": "left", "baseline": "middle", "yOffset": 3, "color": "white"},
"encoding": {
"x": {"datum": 939.9, "type": "quantitative", "scale": {"domain": [-0.625, 937.375], "nice": false, "zero": false}, "axis": {"title": null}},
"y": {"field": "price", "type": "quantitative", "scale": {"domain": [5966.5, 6173.25], "nice": false, "zero": false}, "axis": {"title": null}},
"text": {"field": "price", "format": ".1f"}
}
},
{
"data": {"name": "candles"},
"transform": [{"filter": "datum.i == 522"}],
"mark": {"type": "bar", "height": 18, "yOffset": 3, "color": "black"},
"encoding": {
"x": {"datum": 938.2, "type": "quantitative", "scale": {"domain": [-0.625, 937.375], "nice": false, "zero": false}, "axis": {"title": null}},
"x2": {"datum": 955.7},
"y": {"field": "c", "type": "quantitative", "scale": {"domain": [5966.5, 6173.25], "nice": false, "zero": false}, "axis": {"title": null}}
}
},
{
"data": {"name": "candles"},
"transform": [{"filter": "datum.i == 522"}],
"mark": {"type": "text", "font": "DejaVu Sans", "fontSize": 16, "align": "left", "baseline": "middle", "yOffset": 3, "color": "white"},
"encoding": {
"x": {"datum": 939.9, "type": "quantitative", "scale": {"domain": [-0.625, 937.375], "nice": false, "zero": false}, "axis": {"title": null}},
"y": {"field": "c", "type": "quantitative", "scale": {"domain": [5966.5, 6173.25], "nice": false, "zero": false}, "axis": {"title": null}},
"text": {"field": "c", "format": ".1f"}
}
}
]
}
